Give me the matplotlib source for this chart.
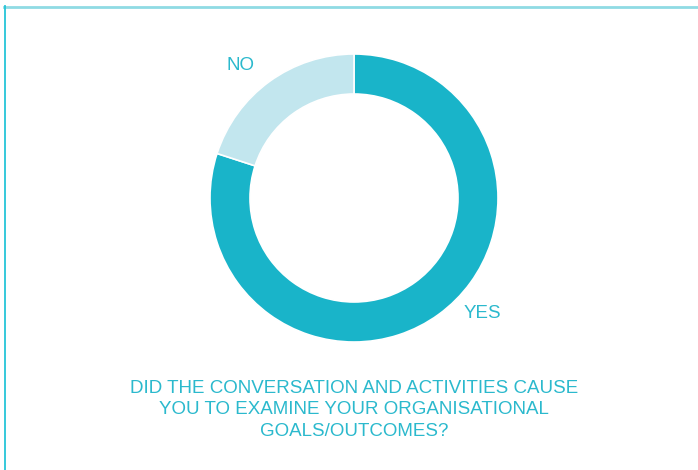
import matplotlib

matplotlib.use("Agg")
import matplotlib.pyplot as plt
from matplotlib.lines import Line2D

W, H = 698, 470

labels = ["YES", "NO"]
values = [80, 20]
colors = ["#19b4c9", "#c2e6ee"]
TEXT = "#2bb9cd"

fig = plt.figure(figsize=(W / 100, H / 100), dpi=100)
fig.patch.set_facecolor("white")
ax = fig.add_axes([0, 0, 1, 1])

cx, cy = 354, H - 198
ax.pie(values, colors=colors, startangle=90, counterclock=False,
       center=(cx, cy), radius=144, frame=True,
       wedgeprops=dict(width=40, edgecolor="white", linewidth=1.2))
ax.set_xlim(0, W)
ax.set_ylim(0, H)
ax.set_aspect("equal")
ax.axis("off")

ax.text(240, H - 66, labels[1], ha="center", va="center", color=TEXT,
        fontsize=13.5, family="Liberation Sans")
ax.text(482, H - 313, labels[0], ha="center", va="center", color=TEXT,
        fontsize=13.5, family="Liberation Sans")

title = "DID THE CONVERSATION AND ACTIVITIES CAUSE\nYOU TO EXAMINE YOUR ORGANISATIONAL\nGOALS/OUTCOMES?"
ax.text(354, H - 410, title, ha="center", va="center", color=TEXT,
        fontsize=13.5, family="Liberation Sans", linespacing=1.36)

# frame lines (top and left only)
fig.add_artist(Line2D([4 / W, 1], [1 - 6.5 / H, 1 - 6.5 / H],
                      color="#8fdbe4", lw=2, transform=fig.transFigure))
fig.add_artist(Line2D([4.5 / W, 4.5 / W], [0, 1 - 6 / H],
                      color="#25c5d8", lw=1.3, transform=fig.transFigure))

fig.savefig("out.png", dpi=100)
